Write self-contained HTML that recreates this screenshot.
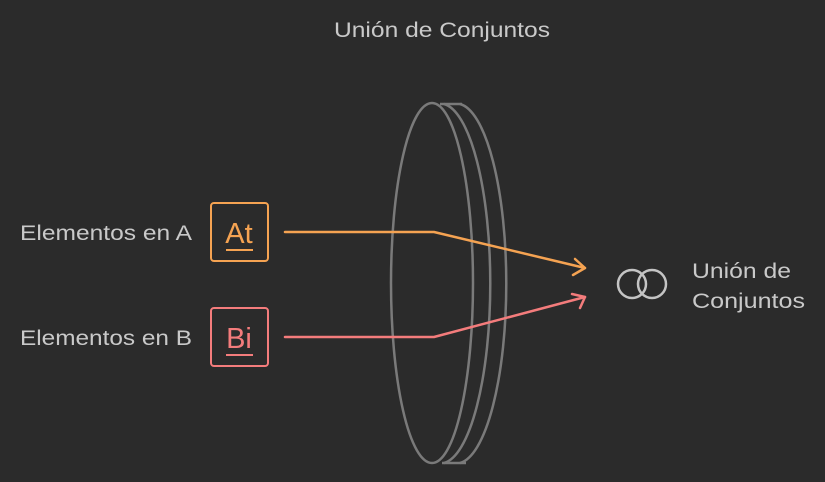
<!DOCTYPE html>
<html><head><style>
html,body{margin:0;padding:0;background:#2b2b2b;}
svg{display:block;}
text{font-family:"Liberation Sans",sans-serif;fill:#c9c9c9;}
</style></head><body>
<svg width="825" height="482" viewBox="0 0 825 482">
<rect width="825" height="482" fill="#2b2b2b"/>
<text x="334" y="37" font-size="21" textLength="216" lengthAdjust="spacingAndGlyphs" fill="#c4c4c4">Unión de Conjuntos</text>
<g fill="none" stroke="#7a7a7a" stroke-width="2.5">
<ellipse cx="432" cy="283" rx="41" ry="180"/>
<path d="M440 104 L462 104"/>
<path d="M442 463 L466 463"/>
<path d="M444 104 A50 180 0 0 1 444 463"/>
<path d="M460 104 A50 180 0 0 1 460 463"/>
</g>
<text x="20" y="240" font-size="21" textLength="172" lengthAdjust="spacingAndGlyphs">Elementos en A</text>
<text x="20" y="345" font-size="21" textLength="172" lengthAdjust="spacingAndGlyphs">Elementos en B</text>
<rect x="211" y="203" width="57" height="58" rx="3" fill="none" stroke="#f5a352" stroke-width="2"/>
<text x="239" y="243" font-size="29" text-anchor="middle" style="fill:#f5a352">At</text>
<line x1="226" y1="250" x2="253" y2="250" stroke="#f5a352" stroke-width="2"/>
<rect x="211" y="308" width="57" height="58" rx="3" fill="none" stroke="#f47c7c" stroke-width="2"/>
<text x="239" y="348" font-size="29" text-anchor="middle" style="fill:#f47c7c">Bi</text>
<line x1="226" y1="355" x2="253" y2="355" stroke="#f47c7c" stroke-width="2"/>
<g fill="none" stroke-width="2.5" stroke-linejoin="round" stroke-linecap="round">
<path d="M285 232 L434 232 L585 268" stroke="#f5a352"/>
<path d="M575 259 L585 268 L573 275" stroke="#f5a352"/>
<path d="M285 337 L434 337 L585 297" stroke="#f47c7c"/>
<path d="M572 294 L585 297 L580 308" stroke="#f47c7c"/>
<circle cx="632" cy="284" r="14" stroke="#c4c4c4"/>
<circle cx="652" cy="284" r="14" stroke="#c4c4c4"/>
</g>
<text x="692" y="278" font-size="21" textLength="99" lengthAdjust="spacingAndGlyphs">Unión de</text>
<text x="692" y="308" font-size="21" textLength="113" lengthAdjust="spacingAndGlyphs">Conjuntos</text>
</svg>
</body></html>
